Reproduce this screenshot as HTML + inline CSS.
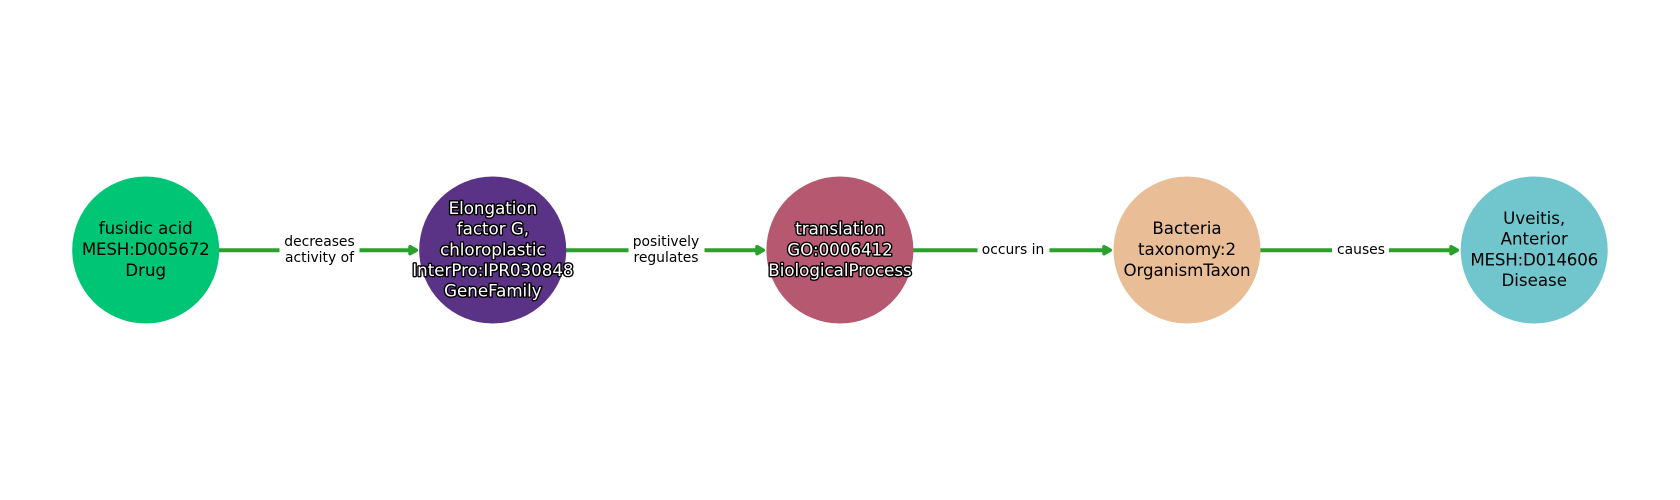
<!DOCTYPE html>
<html>
<head>
<meta charset="utf-8">
<style>
html,body{margin:0;padding:0;background:#fff;width:1680px;height:500px;overflow:hidden}
svg{display:block}
text{font-family:"DejaVu Sans","Liberation Sans",sans-serif;text-anchor:middle}
.n{font-size:16.67px;fill:#000}
.w{font-size:16.67px;fill:#fff;stroke:#000;stroke-width:2.8px;paint-order:stroke;stroke-linejoin:round}
.e{font-size:13.89px;fill:#000}
.t{letter-spacing:-0.2px}
.l{stroke:#2ca02c;stroke-width:4;fill:none}
.a{fill:#2ca02c;stroke:#2ca02c;stroke-width:3.5;stroke-linejoin:round}
</style>
</head>
<body>
<svg width="1680" height="500" viewBox="0 0 1680 500" xmlns="http://www.w3.org/2000/svg">
<rect width="1680" height="500" fill="#fff"/>

<line class="l" x1="219" y1="250.2" x2="279.5" y2="250.2"/>
<line class="l" x1="359.5" y1="250.2" x2="411" y2="250.2"/>
<polygon class="a" points="410,246.7 416.3,250.2 410,253.7"/>
<line class="l" x1="566" y1="250.2" x2="628.5" y2="250.2"/>
<line class="l" x1="704.5" y1="250.2" x2="759" y2="250.2"/>
<polygon class="a" points="757,246.7 763.3,250.2 757,253.7"/>
<line class="l" x1="913" y1="250.2" x2="977.5" y2="250.2"/>
<line class="l" x1="1049.5" y1="250.2" x2="1106" y2="250.2"/>
<polygon class="a" points="1104,246.7 1110.3,250.2 1104,253.7"/>
<line class="l" x1="1260" y1="250.2" x2="1332" y2="250.2"/>
<line class="l" x1="1389" y1="250.2" x2="1453" y2="250.2"/>
<polygon class="a" points="1451,246.7 1457.3,250.2 1451,253.7"/>

<circle cx="145.7" cy="250" r="73.5" fill="#00c574"/>
<circle cx="492.7" cy="250" r="73.5" fill="#5a3286"/>
<circle cx="839.9" cy="250" r="73.5" fill="#b55870"/>
<circle cx="1187" cy="250" r="73.5" fill="#e9be96"/>
<circle cx="1534.2" cy="250" r="73.5" fill="#70c6cc"/>

<text class="n" x="145.7" y="234">fusidic acid</text>
<text class="n t" x="145.7" y="255">MESH:D005672</text>
<text class="n" x="145.7" y="276">Drug</text>

<text class="w" x="492.9" y="214">Elongation</text>
<text class="w" x="492.9" y="234.7">factor G,</text>
<text class="w" x="492.9" y="255.3">chloroplastic</text>
<text class="w" x="492.9" y="276">InterPro:IPR030848</text>
<text class="w" x="492.9" y="296.7">GeneFamily</text>

<text class="w" x="840" y="234.7">translation</text>
<text class="w" x="840" y="255.3">GO:0006412</text>
<text class="w" x="840" y="276">BiologicalProcess</text>

<text class="n" x="1187" y="234">Bacteria</text>
<text class="n" x="1187" y="255">taxonomy:2</text>
<text class="n" style="letter-spacing:-0.1px" x="1187" y="276">OrganismTaxon</text>

<text class="n" x="1534.2" y="224">Uveitis,</text>
<text class="n" x="1534.2" y="244.7">Anterior</text>
<text class="n t" x="1534.2" y="265.3">MESH:D014606</text>
<text class="n" x="1534.2" y="286">Disease</text>

<text class="e" x="319.5" y="246">decreases</text>
<text class="e" x="319.5" y="262">activity of</text>
<text class="e" x="666" y="246">positively</text>
<text class="e" x="666" y="262">regulates</text>
<text class="e" x="1013" y="254">occurs in</text>
<text class="e" x="1361" y="254">causes</text>
</svg>
</body>
</html>
